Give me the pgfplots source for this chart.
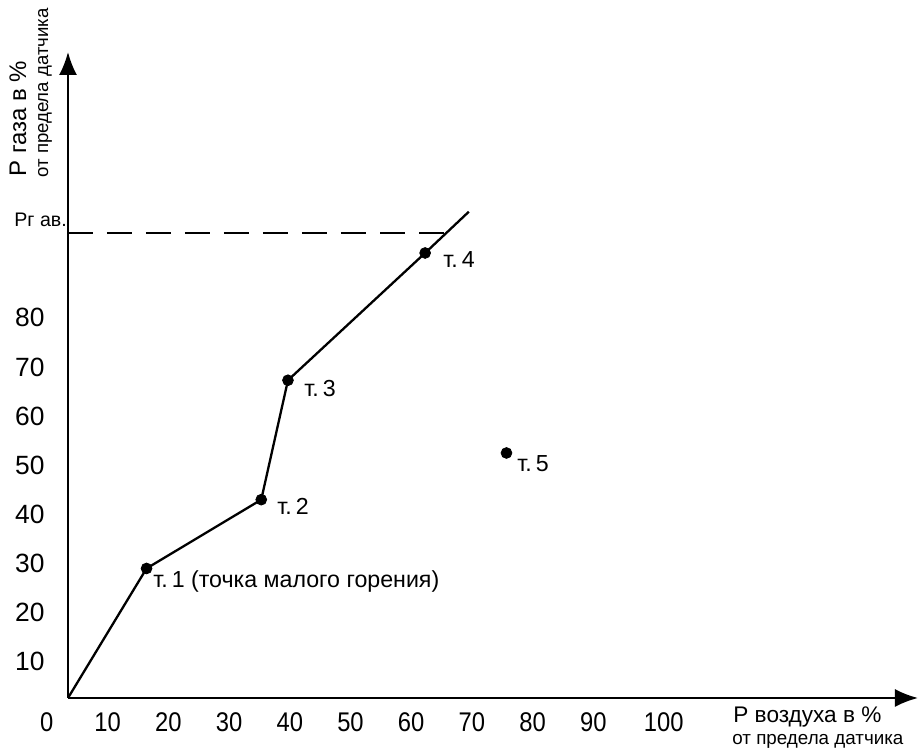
\documentclass[border=0pt]{standalone}
\usepackage{fontspec}
\setmainfont{Liberation Sans}
\newfontfamily\narrowfont[FakeStretch=0.88]{Liberation Sans}
\usepackage{pgfplots}
\pgfplotsset{compat=1.18}
\usetikzlibrary{arrows.meta}

% picture pixels (from top left) -> pt
\newcommand\pxy[2]{({(#1)*0.5pt},{(749-(#2))*0.5pt})}

\begin{document}
\begin{tikzpicture}
\path[use as bounding box] (0,0) rectangle (459pt,374.5pt);

\begin{axis}[
  at={(34pt,25.5pt)}, anchor=south west,
  scale only axis, width=425pt, height=323pt,
  xmin=3.46, xmax=143.5, ymin=2.64, ymax=134.1,
  axis lines=left,
  axis line style={line width=1pt, -{Latex[length=11.5pt,width=9pt]}},
  xtick={10,20,30,40,50,60,70,80,90,101.6},
  xticklabels={10,20,30,40,50,60,70,80,90,100},
  ytick={10,20,30,40,50,60,70,80},
  major tick length=0pt,
  /pgf/number format/assume math mode=true,
  xticklabel style={anchor=center, yshift=-12pt, inner sep=0pt,
    font=\narrowfont\fontsize{13.5}{13.5}\selectfont},
  yticklabel style={anchor=east, xshift=-11.5pt, inner sep=0pt,
    font=\fontsize{13.2}{13.2}\selectfont},
  clip=false,
]
% характеристика
\addplot[line width=1.15pt] coordinates {
  (3.46,2.64) (16.4,29.0) (35.3,43.0) (39.7,67.3) (62.3,93.2) (69.5,101.6)};
% точки т.1 - т.5
\addplot[only marks, mark=*, mark size=2.7pt] coordinates {
  (16.4,29.0) (35.3,43.0) (39.7,67.3) (62.3,93.2) (75.7,52.5)};
% аварийный уровень
\addplot[line width=0.85pt, dash pattern=on 12.5pt off 7pt] coordinates {
  (3.46,97.2) (65.8,97.2)};
\end{axis}

\node[anchor=center, inner sep=0pt, font=\narrowfont\fontsize{13.5}{13.5}\selectfont]
  at \pxy{46.7}{722} {0};

\node[rotate=90, anchor=base west, inner sep=0pt, font=\fontsize{12}{12}\selectfont]
  at \pxy{26}{177} {Р газа в \%};
\node[rotate=90, anchor=base west, inner sep=0pt, font=\fontsize{9.3}{9.3}\selectfont]
  at \pxy{48}{178} {от предела датчика};
\node[anchor=base west, inner sep=0pt, font=\fontsize{9.8}{9.8}\selectfont]
  at \pxy{14}{227} {Рг ав.};

\node[anchor=base west, inner sep=0pt, font=\fontsize{11.3}{11.3}\selectfont]
  at \pxy{733}{723} {Р воздуха в \%};
\node[anchor=base west, inner sep=0pt, font=\fontsize{9.4}{9.4}\selectfont]
  at \pxy{732}{745} {от предела датчика};

\begin{scope}[every node/.style={anchor=base west, inner sep=0pt,
    font=\fontsize{11.6}{11.6}\selectfont}]
\node at \pxy{153}{588} {т.\,1 (точка малого горения)};
\node at \pxy{277}{515} {т.\,2};
\node at \pxy{304}{397} {т.\,3};
\node at \pxy{443}{268} {т.\,4};
\node at \pxy{517}{471.5} {т.\,5};
\end{scope}
\end{tikzpicture}
\end{document}
